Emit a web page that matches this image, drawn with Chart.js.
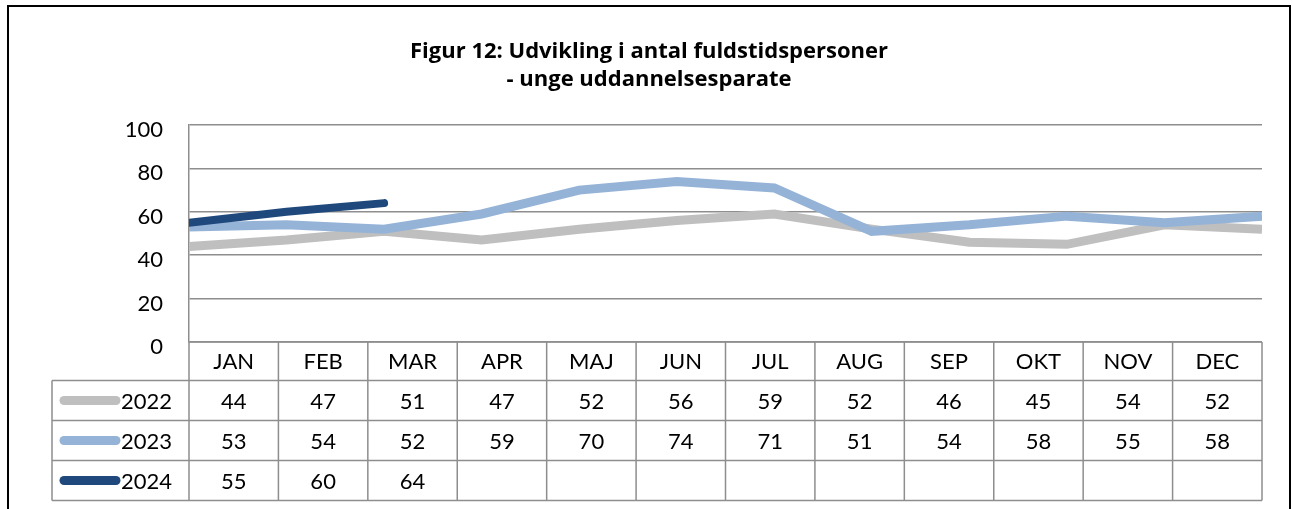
<!DOCTYPE html>
<html>
<head>
<meta charset="utf-8">
<script src="https://cdn.jsdelivr.net/npm/chart.js@4"></script>
<style>
  html, body { margin: 0; padding: 0; background: #fff; }
  #wrap { width: 1293px; height: 509px; position: relative; }
</style>
</head>
<body>
<div id="wrap"><canvas id="c" width="1293" height="509"></canvas></div>
<script>
const titleLines = ['Figur 12: Udvikling i antal fuldstidspersoner', '- unge uddannelsesparate'];
const categories = ['JAN','FEB','MAR','APR','MAJ','JUN','JUL','AUG','SEP','OKT','NOV','DEC'];
const seriesNames = ['2022','2023','2024'];
const values2022 = [44,47,51,47,52,56,59,52,46,45,54,52];
const values2023 = [53,54,52,59,70,74,71,51,54,58,55,58];
const values2024 = [55,60,64];
const yTicks = [0,20,40,60,80,100];

const colors = ['#BFBFBF','#95B3D7','#1F497D'];
const FONT = 'Lato';
const TITLE_FONT = '"Open Sans"';
const gridColor = '#8E8E8E';

const allSeries = [values2022, values2023, values2024];

const framePlugin = {
  id: 'frame',
  beforeDraw(chart) {
    const ctx = chart.ctx;
    ctx.save();
    ctx.fillStyle = '#fff';
    ctx.fillRect(0, 0, chart.width, chart.height);
    ctx.strokeStyle = '#000';
    ctx.lineWidth = 2;
    ctx.strokeRect(8, 6, 1282, 520);
    // title, sized to the reference's line width
    ctx.fillStyle = '#000';
    ctx.font = 'bold 20px ' + TITLE_FONT;
    const w = ctx.measureText(titleLines[0]).width;
    const size = Math.min(22, 20 * 478 / w);
    ctx.font = 'bold ' + size.toFixed(2) + 'px ' + TITLE_FONT;
    ctx.textAlign = 'center';
    ctx.textBaseline = 'alphabetic';
    ctx.fillText(titleLines[0], 649, 58);
    ctx.fillText(titleLines[1], 649, 86);
    ctx.restore();
  },
  afterDraw(chart) {
    const ctx = chart.ctx;
    const area = chart.chartArea;
    const left = area.left, right = area.right;
    const colW = (right - left) / categories.length;
    const tableLeft = 52;
    const ys = [area.bottom, area.bottom + 38.5, area.bottom + 78.5, area.bottom + 118.5, area.bottom + 158.5];
    ctx.save();
    ctx.strokeStyle = gridColor;
    ctx.lineWidth = 1.5;
    ctx.beginPath();
    ctx.moveTo(left, ys[0]); ctx.lineTo(right, ys[0]);
    for (let i = 1; i < ys.length; i++) {
      ctx.moveTo(tableLeft, ys[i]); ctx.lineTo(right, ys[i]);
    }
    ctx.moveTo(tableLeft, ys[1]); ctx.lineTo(tableLeft, ys[4]);
    for (let c = 0; c <= categories.length; c++) {
      const x = left + c * colW;
      ctx.moveTo(x, ys[0]); ctx.lineTo(x, ys[4]);
    }
    ctx.stroke();

    ctx.fillStyle = '#000';
    ctx.font = '22px ' + FONT;
    ctx.textAlign = 'center';
    ctx.textBaseline = 'middle';
    categories.forEach((cat, i) => {
      ctx.fillText(cat, left + (i + 0.5) * colW, (ys[0] + ys[1]) / 2 + 1);
    });
    allSeries.forEach((vals, r) => {
      const yc = (ys[r + 1] + ys[r + 2]) / 2 + 1;
      vals.forEach((v, i) => {
        ctx.textAlign = 'center';
        ctx.fillText(String(v), left + (i + 0.5) * colW, yc);
      });
      ctx.save();
      ctx.strokeStyle = colors[r];
      ctx.lineWidth = 9;
      ctx.lineCap = 'round';
      ctx.beginPath();
      ctx.moveTo(64, yc - 1);
      ctx.lineTo(116, yc - 1);
      ctx.stroke();
      ctx.restore();
      ctx.textAlign = 'left';
      ctx.fillText(seriesNames[r], 121, yc);
    });
    ctx.restore();
  }
};

const datasets = allSeries.map((vals, i) => ({
  label: seriesNames[i],
  data: vals,
  borderColor: colors[i],
  backgroundColor: colors[i],
  borderWidth: i === 2 ? 8 : 9,
  borderCapStyle: i === 2 ? 'round' : 'butt',
  borderJoinStyle: 'miter',
  pointRadius: 0,
  pointHoverRadius: 0,
  tension: 0,
  fill: false,
  clip: 0,
  order: 2 - i
}));

new Chart(document.getElementById('c'), {
  type: 'line',
  data: { labels: categories, datasets },
  options: {
    responsive: false,
    animation: false,
    devicePixelRatio: 1,
    layout: { padding: { left: 0, top: 125, right: 31, bottom: 167 } },
    plugins: { legend: { display: false }, title: { display: false }, tooltip: { enabled: false } },
    scales: {
      x: {
        type: 'category',
        offset: false,
        display: false
      },
      y: {
        min: 0,
        max: 100,
        afterFit(scale) { scale.width = 189; },
        afterBuildTicks(scale) { scale.ticks = yTicks.map(v => ({ value: v })); },
        grid: { color: gridColor, lineWidth: 1.5, drawTicks: false },
        border: { display: true, color: gridColor, width: 1.5 },
        ticks: {
          padding: 26,
          labelOffset: 5,
          color: '#000',
          font: { family: FONT, size: 22 }
        }
      }
    }
  },
  plugins: [framePlugin]
});
</script>
</body>
</html>
